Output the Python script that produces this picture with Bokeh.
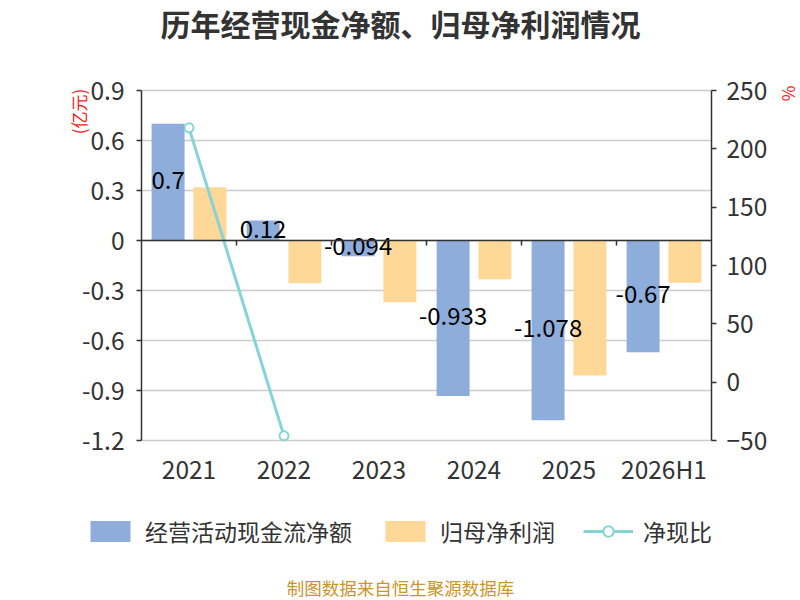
import math
from bokeh.plotting import figure
from bokeh.models import (ColumnDataSource, Range1d, LinearAxis, FixedTicker,
                          CustomJSTickFormatter, Label, Legend, LegendItem)
from bokeh.core.properties import value
from bokeh.embed import file_html
from bokeh.resources import INLINE

# ---- data ----
categories = ["2021", "2022", "2023", "2024", "2025", "2026H1"]
cash_flow = [0.7, 0.12, -0.094, -0.933, -1.078, -0.67]          # 经营活动现金流净额 (亿元)
net_profit = [0.32, -0.256, -0.37, -0.232, -0.81, -0.254]       # 归母净利润 (亿元)
cash_ratio = [218.0, -46.0, float("nan"), float("nan"), float("nan"), float("nan")]  # 净现比 (%)
cash_labels = ["0.7", "0.12", "-0.094", "-0.933", "-1.078", "-0.67"]
left_ticks = [-1.2, -0.9, -0.6, -0.3, 0, 0.3, 0.6, 0.9]
right_ticks = [-50, 0, 50, 100, 150, 200, 250]
series_names = ["经营活动现金流净额", "归母净利润", "净现比"]
title_text = "历年经营现金净额、归母净利润情况"
source_text = "制图数据来自恒生聚源数据库"

FONT = "Noto Sans CJK SC"
BLUE = "#8EADDB"
ORANGE = "#FFD897"
TEAL = "#86D4D8"
AXIS = "#333333"
RED = "#FF2020"
TICK_FS = "24.5px"

# ---- layout geometry (pixels) ----
W, H = 800, 600
PL, PR, PT, PB = 141, 711, 90, 440          # plot box
n = len(categories)
cw = (PR - PL) / n                          # category width in px
ly0, ly1 = left_ticks[0], left_ticks[-1]
ry0, ry1 = right_ticks[0], right_ticks[-1]
lpp = (ly1 - ly0) / (PB - PT)               # left units per px
rpp = (ry1 - ry0) / (PB - PT)               # right units per px

x_range = Range1d(-PL / cw, (W - PL) / cw)
y_range = Range1d(ly0 - (H - PB) * lpp, ly1 + PT * lpp)
pct_range = Range1d(ry0 - (H - PB) * rpp, ry1 + PT * rpp)

xc = [i + 0.5 for i in range(n)]
src = ColumnDataSource(dict(
    xc=xc,
    xb=[x - 0.22 for x in xc],
    xo=[x + 0.22 for x in xc],
    cash=cash_flow,
    profit=net_profit,
    ratio=cash_ratio,
    lab=cash_labels,
    lab_y=[v / 2 for v in cash_flow],
))

p = figure(width=W, height=H, x_range=x_range, y_range=y_range,
           output_backend="svg", toolbar_location=None, min_border=0)
p.outline_line_color = None
p.background_fill_color = "white"
p.border_fill_color = "white"
p.extra_y_ranges = {"pct": pct_range}
p.grid.visible = False

# grid lines (left axis ticks)
grid_src = ColumnDataSource(dict(y=left_ticks, x0=[0] * len(left_ticks), x1=[n] * len(left_ticks)))
p.segment(x0="x0", x1="x1", y0="y", y1="y", source=grid_src, line_color="#CCCCCC", line_width=1.3)


def style_axis(ax, standoff):
    ax.minor_tick_line_color = None
    ax.major_tick_in = 0
    ax.major_tick_out = 5
    ax.axis_line_color = AXIS
    ax.axis_line_width = 1.5
    ax.major_tick_line_color = AXIS
    ax.major_tick_line_width = 1.5
    ax.major_label_standoff = standoff
    ax.major_label_text_font = FONT
    ax.major_label_text_font_size = TICK_FS
    ax.major_label_text_color = AXIS


# left axis
ya = p.yaxis[0]
ya.ticker = FixedTicker(ticks=left_ticks)
ya.formatter = CustomJSTickFormatter(code="return String(Math.round(tick*10)/10)")
ya.fixed_location = 0
ya.bounds = (ly0, ly1)
style_axis(ya, 12)

# right axis
ra = LinearAxis(y_range_name="pct", ticker=FixedTicker(ticks=right_ticks),
                fixed_location=n, bounds=(ry0, ry1))
style_axis(ra, 10)
p.add_layout(ra, "right")

# category labels axis at the bottom of the plot box
xa = p.xaxis[0]
xa.ticker = FixedTicker(ticks=xc)
xa.formatter = CustomJSTickFormatter(args=dict(labels=categories),
                                     code="return labels[Math.round(tick - 0.5)]")
xa.fixed_location = ly0
xa.bounds = (0, n)
style_axis(xa, 10)
xa.axis_line_color = None
xa.major_tick_line_color = None
xa.major_tick_out = 0

# zero axis line with boundary ticks
za = LinearAxis(ticker=FixedTicker(ticks=list(range(1, n))), fixed_location=0, bounds=(0, n))
style_axis(za, 0)
za.major_label_text_color = None
p.add_layout(za, "below")

# bars
r_cash = p.vbar(x="xb", top="cash", width=0.347, source=src, fill_color=BLUE, line_color=None)
r_profit = p.vbar(x="xo", top="profit", width=0.347, source=src, fill_color=ORANGE, line_color=None)

# ratio line
r_line = p.line(x="xc", y="ratio", source=src, y_range_name="pct", line_color=TEAL, line_width=3)
r_pts = p.scatter(x="xc", y="ratio", source=src, y_range_name="pct", size=9,
                  fill_color="white", line_color=TEAL, line_width=2)

# value labels
p.text(x="xb", y="lab_y", text="lab", source=src,
       text_font=value(FONT), text_font_size="24px", text_color="black",
       text_align="center", text_baseline="middle", y_offset=-2)

# title, units, source
p.add_layout(Label(x=400, y=H - 22, x_units="screen", y_units="screen", text=title_text,
                   text_font=FONT, text_font_size="30px", text_font_style="bold",
                   text_color="#333333", text_align="center", text_baseline="middle"))
p.add_layout(Label(x=78, y=H - 111, x_units="screen", y_units="screen", text="(亿元)",
                   angle=math.pi / 2, text_font=FONT, text_font_size="17px",
                   text_color=RED, text_align="center", text_baseline="middle"))
p.add_layout(Label(x=787, y=H - 93, x_units="screen", y_units="screen", text="%",
                   angle=math.pi / 2, text_font=FONT, text_font_size="17px",
                   text_color=RED, text_align="center", text_baseline="middle"))
p.add_layout(Label(x=400, y=13, x_units="screen", y_units="screen", text=source_text,
                   text_font=FONT, text_font_size="17.5px", text_color="#C9952D",
                   text_align="center", text_baseline="middle"))

legend = Legend(items=[
    LegendItem(label=series_names[0], renderers=[r_cash]),
    LegendItem(label=series_names[1], renderers=[r_profit]),
    LegendItem(label=series_names[2], renderers=[r_line, r_pts]),
], location=(85, H - 548), orientation="horizontal")
legend.glyph_width = 50
legend.glyph_height = 26
legend.label_standoff = 10
legend.spacing = 28
legend.padding = 0
legend.margin = 0
legend.border_line_color = None
legend.background_fill_alpha = 0
legend.label_text_font = FONT
legend.label_text_font_size = "23px"
legend.label_text_color = AXIS
legend.label_height = 26
p.add_layout(legend, "center")

open("out.html", "w").write(file_html(p, INLINE))
